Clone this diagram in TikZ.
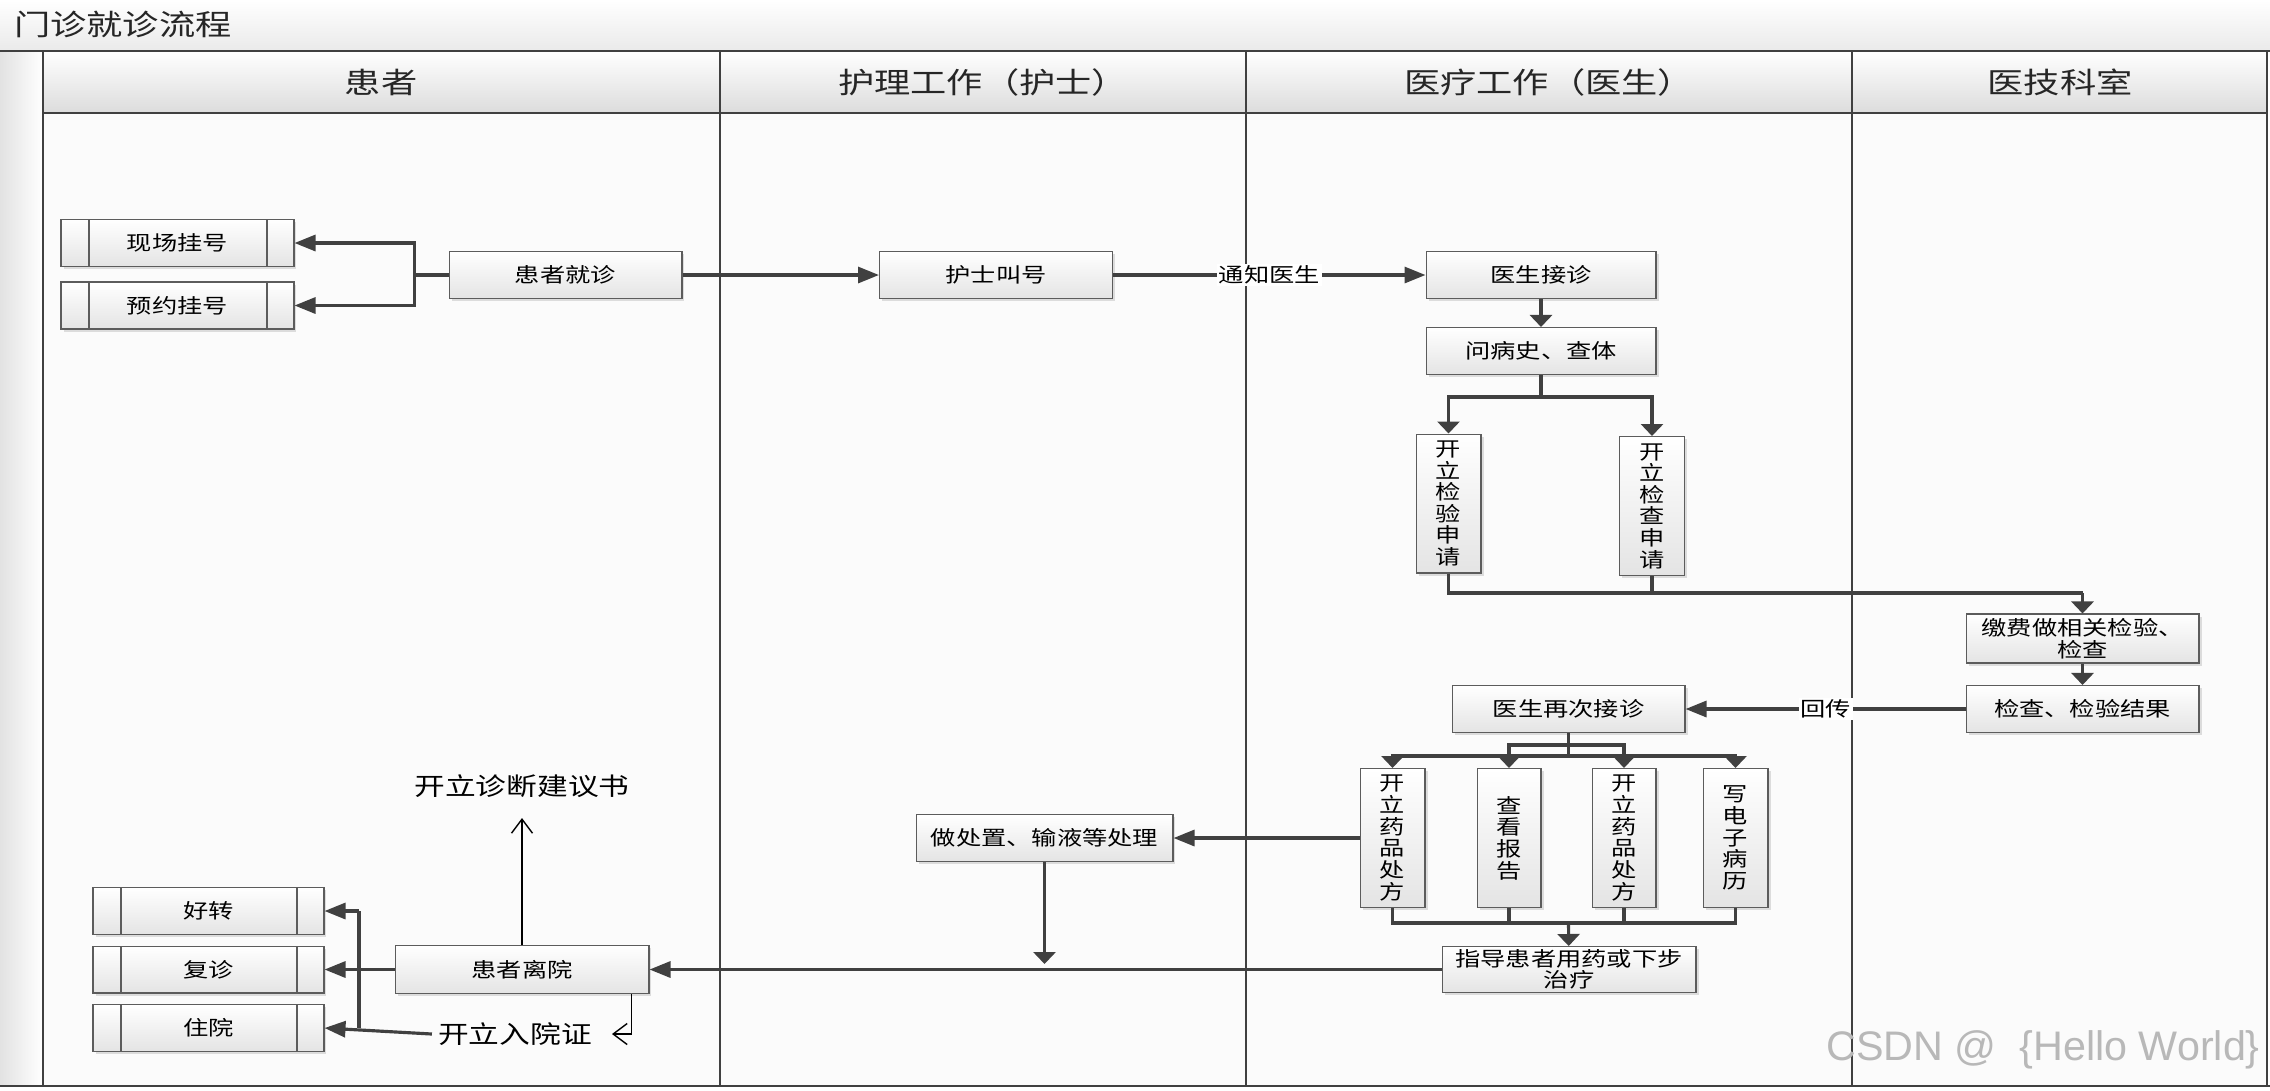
\documentclass[tikz,border=0pt]{standalone}
\usepackage{fontspec}
\setmainfont{Noto Sans CJK SC}[FakeStretch=1.25]
\newfontfamily\markfont{Liberation Sans}
\usepackage{xcolor}
\usepackage{tikz}
\usetikzlibrary{arrows.meta,shadows}
\definecolor{lineGray}{HTML}{404040}
\definecolor{boxEdge}{HTML}{5C5C5C}
\definecolor{boxBottom}{HTML}{E4E4E4}
\definecolor{headBottom}{HTML}{DCDCDC}
\definecolor{titleBottom}{HTML}{EAEAEA}
\definecolor{laneBack}{HTML}{FBFBFB}
\definecolor{stripGray}{HTML}{E2E2E2}
\definecolor{markGray}{HTML}{B8B8B8}

\begin{document}
\begin{tikzpicture}[x=0.02cm,y=-0.02cm,
  box/.style={draw=boxEdge,line width=0.6pt,top color=white,bottom color=boxBottom,
    drop shadow={shadow xshift=0.05cm,shadow yshift=-0.05cm,opacity=0.25},
    minimum width=4.66cm,minimum height=0.94cm,inner sep=0pt,align=center,
    font=\fontsize{11.5}{12.3}\selectfont},
  subbox/.style={box,path picture={
    \draw[boxEdge,line width=0.6pt]
      ([xshift=0.56cm]path picture bounding box.north west) -- ([xshift=0.56cm]path picture bounding box.south west)
      ([xshift=-0.54cm]path picture bounding box.north east) -- ([xshift=-0.54cm]path picture bounding box.south east);}},
  tallbox/.style={box,minimum width=1.3cm,minimum height=2.78cm},
  laneHead/.style={font=\fontsize{16.5}{19}\selectfont,text=black!85},
  conn/.style={draw=lineGray,line width=1.8pt},
  harrow/.style={-{Triangle[length=0.42cm,width=0.32cm]}},
  varrow/.style={-{Triangle[length=0.24cm,width=0.44cm]}},
  openArrow/.style={-{Straight Barb[length=0.28cm,width=0.42cm]},draw=black,line width=0.8pt},
  tag/.style={fill=white,inner sep=1pt,font=\fontsize{11.5}{12.3}\selectfont},
  note/.style={font=\fontsize{14}{16}\selectfont}]
\useasboundingbox (0,0) rectangle (2270,1090);
\shade[top color=white,bottom color=titleBottom] (0,0) rectangle (2270,51);
\shade[left color=stripGray,right color=white] (0,51) rectangle (43,1086);
\fill[laneBack] (43,113) rectangle (2267,1086);
\shade[top color=white,bottom color=headBottom] (43,51) rectangle (2267,113);
\draw[lineGray,line width=1.2pt] (0,51) -- (2270,51) (43,113) -- (2267,113) (0,1086) -- (2270,1086);
\draw[lineGray,line width=1.1pt] (43,51) rectangle (2267,1086)
  (720,51) -- (720,1086) (1246,51) -- (1246,1086) (1852,51) -- (1852,1086);
\node[laneHead,anchor=west] (flowTitle) at (8,24) {门诊就诊流程};
\node[laneHead] (headPatient) at (381,82) {患者};
\node[laneHead] (headNurse) at (983,82) {护理工作（护士）};
\node[laneHead] (headDoctor) at (1549,82) {医疗工作（医生）};
\node[laneHead] (headTech) at (2060,82) {医技科室};

\node[subbox] (onsiteReg) at (177.5,243) {现场挂号};
\node[subbox] (apptReg) at (177.5,305.5) {预约挂号};
\node[box] (patientVisit) at (565.5,275) {患者就诊};
\node[box] (nurseCall) at (996,275) {护士叫号};
\node[box,minimum width=4.6cm] (doctorRecv) at (1541,275) {医生接诊};
\node[box,minimum width=4.6cm] (history) at (1541,351) {问病史、查体};
\node[tallbox] (labReq) at (1448.5,503.5) {开\\立\\检\\验\\申\\请};
\node[tallbox] (examReq) at (1652,506) {开\\立\\检\\查\\申\\请};
\coordinate (joinTop) at (2082.5,593);
\node[box,minimum height=0.98cm] (pay) at (2082.5,638.5) {缴费做相关检验、\\检查};
\node[box] (result) at (2082.5,709) {检查、检验结果};
\node[box] (redo) at (1568.5,709) {医生再次接诊};
\coordinate (splitInner) at (1568.5,745);
\coordinate (splitOuter) at (1568.5,756);
\node[tallbox] (rxFirst) at (1392.5,838) {开\\立\\药\\品\\处\\方};
\node[tallbox,minimum width=1.28cm] (report) at (1509,838) {查\\看\\报\\告};
\node[tallbox,minimum width=1.28cm] (rxSecond) at (1624,838) {开\\立\\药\\品\\处\\方};
\node[tallbox] (emr) at (1735.5,838) {写\\电\\子\\病\\历};
\coordinate (mergeJoin) at (1568.5,923);
\node[box,minimum width=5.08cm,minimum height=0.92cm] (guide) at (1569,969.5) {指导患者用药或下步\\治疗};
\node[box,minimum width=5.14cm] (treat) at (1044.5,838) {做处置、输液等处理};
\coordinate (treatEnd) at (1044.5,964);
\node[box,minimum width=5.08cm,minimum height=0.96cm] (leaveHosp) at (522,969.5) {患者离院};
\node[subbox,minimum width=4.62cm] (better) at (208.5,911) {好转};
\node[subbox,minimum width=4.62cm] (revisit) at (208.5,969.5) {复诊};
\node[subbox,minimum width=4.62cm] (admit) at (208.5,1028) {住院};
\coordinate (busTop) at (359,911);
\node[note] (diagNote) at (522,786) {开立诊断建议书};
\coordinate (diagTip) at (522,818);
\node[note] (admitNote) at (515,1034) {开立入院证};
\coordinate (admitTip) at (612,1034);
\node[font=\markfont\fontsize{23.5}{26}\selectfont,text=markGray] (csdnMark) at (2043,1050) {CSDN @\ \ \{Hello World\}};

\draw[conn,harrow] (patientVisit.west) -- ++(-34,0) |- (onsiteReg.east);
\draw[conn,harrow] (patientVisit.west) -- ++(-34,0) |- (apptReg.east);
\draw[conn,harrow] (patientVisit) -- (nurseCall);
\draw[conn,harrow] (nurseCall) -- node[tag]{通知医生} (doctorRecv);
\draw[conn,varrow] (doctorRecv) -- (history);
\draw[conn,varrow] (history.south) -- ++(0,22) -| (labReq.north);
\draw[conn,varrow] (history.south) -- ++(0,22) -| (examReq.north);
\draw[conn] (labReq.south) |- (joinTop);
\draw[conn] (examReq.south) |- (joinTop);
\draw[conn,varrow] (joinTop) -- (pay);
\draw[conn,varrow] (pay) -- (result);
\draw[conn,harrow] (result) -- node[tag]{回传} (redo);
\draw[conn] (redo) -- (splitOuter);
\draw[conn,varrow] (splitOuter) -| (rxFirst.north);
\draw[conn,varrow] (splitOuter) -| (emr.north);
\draw[conn,varrow] (splitInner) -| (report.north);
\draw[conn,varrow] (splitInner) -| (rxSecond.north);
\draw[conn] (rxFirst.south) |- (mergeJoin);
\draw[conn] (report.south) |- (mergeJoin);
\draw[conn] (rxSecond.south) |- (mergeJoin);
\draw[conn] (emr.south) |- (mergeJoin);
\draw[conn,varrow] (mergeJoin) -- (guide);
\draw[conn,harrow] (rxFirst) -- (treat);
\draw[conn,varrow] (treat) -- (treatEnd);
\draw[conn,harrow] (guide) -- (leaveHosp);
\draw[conn,harrow] (leaveHosp) -- (revisit);
\draw[conn,harrow] (busTop) -- (better);
\draw[conn] (busTop) -- (busTop |- admit);
\draw[conn,harrow] (admitNote.west) -- (admit.east);
\draw[openArrow] (leaveHosp.north) -- (diagTip);
\draw[openArrow] ([xshift=-0.36cm]leaveHosp.south east) |- (admitTip);
\end{tikzpicture}
\end{document}
